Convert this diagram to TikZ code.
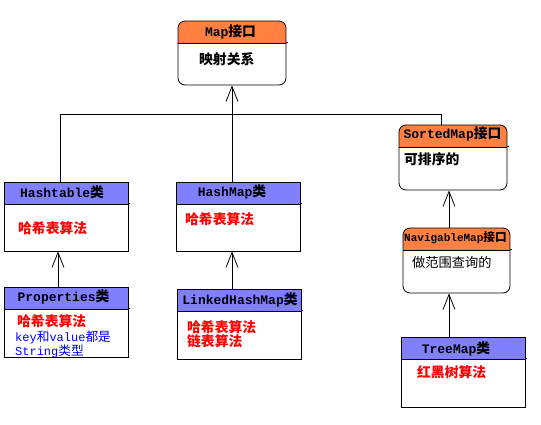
\documentclass[tikz,border=0pt]{standalone}
\usepackage{fontspec}
\setmainfont{Liberation Mono}
\newfontfamily\cjk{Noto Sans CJK SC}[Scale=1.06]
\newcommand{\zh}[1]{{\cjk #1}}
\usetikzlibrary{arrows.meta}
\definecolor{ifaceorange}{RGB}{255,128,64}
\definecolor{classblue}{RGB}{128,128,255}
\tikzset{
  umlbox/.style={draw, line width=0.8pt, inner sep=0pt, minimum width=124pt, minimum height=70pt,
    path picture={\fill[#1, sharp corners] (path picture bounding box.north west) rectangle ([yshift=-22pt]path picture bounding box.north east);
      \draw[line width=0.8pt, sharp corners] ([yshift=-22pt]path picture bounding box.north west) -- ([yshift=-22pt]path picture bounding box.north east);},
    append after command={([yshift=-22pt]\tikzlastnode.north east) edge[line width=0.8pt, sharp corners] ([yshift=-22pt, xshift=2pt]\tikzlastnode.north east)}},
  classbox/.style={umlbox=classblue},
  ifacebox/.style={umlbox=ifaceorange, rounded corners=7pt, minimum width=108pt, minimum height=65pt},
  hd/.style={inner sep=0pt, font=\bfseries\fontsize{13}{14}\selectfont},
  txt/.style={inner sep=0pt, anchor=west, align=left, font=\bfseries\fontsize{13}{14}\selectfont},
  inherit/.style={line width=0.8pt, -{Straight Barb[length=15pt, width=12pt, line width=0.8pt]}}
}
\begin{document}
\begin{tikzpicture}[x=1pt,y=-1pt]
\useasboundingbox (0,0) rectangle (541,424);

%Shape: interfaces
\node[ifacebox, minimum height=64pt] (map) at (232,53) {};
\node[ifacebox] (sorted) at (453,157.5) {};
\node[ifacebox, minimum width=107pt] (navigable) at (456.5,260.5) {};

%Shape: classes
\node[classbox, minimum height=69pt] (hashtable) at (66,216.5) {};
\node[classbox] (properties) at (66,322) {};
\node[classbox, minimum height=69pt] (hashmap) at (238,216.5) {};
\node[classbox] (linked) at (239,324) {};
\node[classbox] (treemap) at (463,372) {};

% Text Node
\node[hd] (maphd) at (230.5,32) {Map\zh{接口}};
\node[txt] (maptxt) at (199,59) {\zh{映射关系}};
% Text Node
\node[hd] (sortedhd) at (452.5,134) {SortedMap\zh{接口}};
\node[txt] (sortedtxt) at (404,159) {\zh{可排序的}};
% Text Node
\node[hd, font=\bfseries\fontsize{11}{12}\selectfont] (navigablehd) at (455.5,237.5) {NavigableMap\zh{接口}};
\node[txt, font=\fontsize{12.5}{14}\selectfont] (navigabletxt) at (412,262) {\zh{做范围查询的}};
% Text Node
\node[hd] (hashtablehd) at (62,192) {Hashtable\zh{类}};
\node[txt, text=red] (hashtabletxt) at (18,228.5) {\zh{哈希表算法}};
% Text Node
\node[hd] (propertieshd) at (63.5,297) {Properties\zh{类}};
\node[txt, text=red] (propertiestxt) at (17,321) {\zh{哈希表算法}};
\node[txt, text=blue, font=\fontsize{12}{13}\selectfont] (propertiesnote) at (15,344.5) {key\zh{和}value\zh{都是}\\String\zh{类型}};
% Text Node
\node[hd] (hashmaphd) at (232,192) {HashMap\zh{类}};
\node[txt, text=red] (hashmaptxt) at (185,219) {\zh{哈希表算法}};
% Text Node
\node[hd] (linkedhd) at (240,300) {LinkedHashMap\zh{类}};
\node[txt, text=red] (linkedtxt) at (187,334) {\zh{哈希表算法}\\\zh{链表算法}};
% Text Node
\node[hd] (treemaphd) at (456,348.5) {TreeMap\zh{类}};
\node[txt, text=red] (treemaptxt) at (417,372) {\zh{红黑树算法}};

%Straight Lines
\coordinate (busL) at (60,114);
\coordinate (busR) at (441,114);
\draw[line width=0.8pt] (hashtable.north -| busL) -- (busL) -- (busR) -- (sorted.north -| busR);
\draw[inherit] (hashmap.north -| map.south) -- (map.south);
\draw[inherit] ([xshift=-8pt]properties.north) -- ([xshift=-8pt]hashtable.south);
\draw[inherit] (linked.north -| map.south) -- (hashmap.south -| map.south);
\coordinate (navx) at (449,0);
\draw[inherit] (navigable.north -| navx) -- (sorted.south -| navx);
\draw[inherit] (treemap.north -| navx) -- (navigable.south -| navx);

\end{tikzpicture}
\end{document}
